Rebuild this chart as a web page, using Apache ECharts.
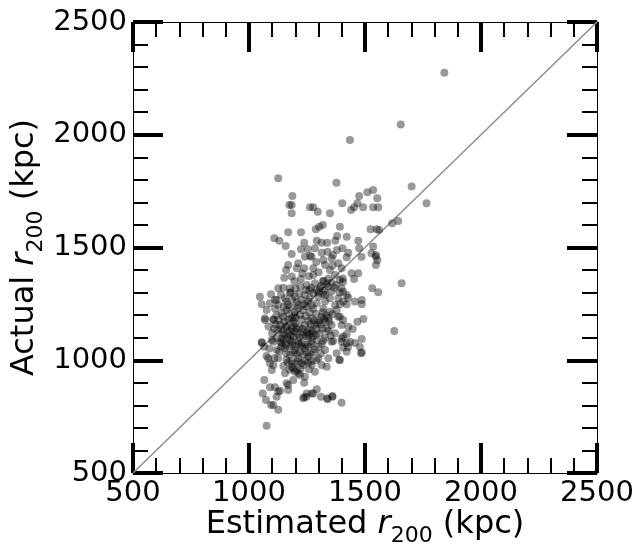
<!DOCTYPE html>
<html>
<head>
<meta charset="utf-8">
<script src="https://cdn.jsdelivr.net/npm/echarts@6/dist/echarts.min.js"></script>
<style>
  html, body { margin: 0; padding: 0; background: #fff; }
  #chart { width: 636px; height: 545px; }
</style>
</head>
<body>
<div id="chart"></div>
<script>
// axis range and tick labels (both axes share them)
const axisMin = 500
const axisMax = 2500
const majorStep = 500
const tickLabels = ['500', '1000', '1500', '2000', '2500']

// [estimated r200, actual r200] in kpc
const upperPoints = [
  [1126,1807],[1377,1787],[1187,1728],[1174,1689],[1184,1689],[1184,1652],[1263,1678],[1277,1678],
  [1296,1659],[1349,1652],[1402,1696],[1440,1666],[1453,1678],[1467,1696],[1475,1728],[1510,1745],
  [1535,1755],[1553,1718],[1492,1678],[1535,1678],[1557,1678],[1701,1770],[1765,1696],[1617,1607],
  [1643,1618],[1524,1581],[1550,1581],[1561,1578],[1288,1581],[1303,1592],[1318,1600],[1392,1592],
  [1169,1568],[1224,1568],[1109,1541],[1131,1530],[1158,1507],[1238,1521],[1292,1530],[1313,1521],
  [1337,1521],[1372,1530],[1380,1551],[1421,1548],[1471,1530],[1224,1492],[1253,1492],[1284,1497],
  [1313,1477],[1339,1481],[1403,1497],[1428,1477],[1475,1497],[1535,1504],[1528,1474],[1547,1467],
  [1485,1459],[1421,1457],[1184,1471],[1263,1462],[1362,1467],[1379,1489],
  [1435,1977],[1654,2046],[1842,2275]
]

const rightPoints = [
  [1547,1459],[1553,1444],[1547,1422],[1442,1386],[1471,1386],[1453,1360],[1404,1363],[1406,1348],
  [1658,1341],[1531,1319],[1557,1301],[1406,1304],[1421,1289],[1428,1277],[1457,1260],[1486,1267],
  [1486,1248],[1421,1248],[1392,1248],[1392,1193],[1406,1179],[1493,1183],[1467,1171],[1428,1149],
  [1447,1139],[1421,1115],[1406,1105],[1626,1130],[1486,1094],[1486,1034],[1400,1082],[1421,1075],
  [1483,1031],[1392,1001],[1399,812],[1435,1082],[1427,1059],[1457,1077],[1478,1059],[1421,1038]
]

const lowerPoints = [
  [1310,838],[1337,831],[1360,838],[1292,871],[1270,853],[1248,838],[1234,831],[1191,912],
  [1162,898],[1169,868],[1126,861],[1112,880],[1090,880],[1059,853],[1073,824],[1105,802],
  [1126,780],[1076,710],[1066,912],[1055,1078],[1065,1060],[1069,1179],[1105,1182],[1389,1001],
  [1076,1019],[1090,987],[1098,957],[1134,865],[1119,838],[1095,802],[1169,890],[1212,942],
  [1238,900],[1249,853],[1238,836],[1277,853],[1339,827],[1359,842],[1378,1031],[1406,1057]
]

const corePoints = [
  [1212,1430],[1241,1459],[1270,1459],[1320,1445],[1356,1452],[1385,1430],[1169,1422],
  [1206,1408],[1238,1408],[1277,1408],[1328,1422],[1349,1400],[1399,1408],
  [1152,1366],[1184,1371],[1224,1360],[1277,1378],[1342,1363],[1371,1378],[1392,1356],
  [1126,1319],[1148,1322],[1177,1319],[1249,1334],[1284,1341],[1306,1319],[1342,1326],[1368,1322],[1399,1319],
  [1047,1282],[1095,1293],[1119,1267],[1155,1275],[1198,1282],[1241,1289],[1277,1297],[1299,1282],[1320,1293],[1349,1275],[1385,1275],
  [1055,1248],[1090,1253],[1126,1245],[1169,1245],[1212,1245],[1256,1260],[1292,1253],[1328,1260],[1371,1245],[1406,1260],
  [1076,1223],[1112,1230],[1162,1223],[1198,1215],[1234,1223],[1277,1230],[1320,1230],[1349,1215],[1378,1223],
  [1069,1186],[1105,1179],[1148,1193],[1184,1186],[1220,1201],[1270,1186],[1313,1193],[1342,1186],[1385,1193],
  [1134,1156],[1162,1149],[1198,1164],[1241,1156],[1284,1156],[1328,1171],[1356,1156],[1399,1156],
  [1126,1134],[1169,1120],[1198,1127],[1234,1124],[1270,1130],[1306,1120],[1342,1130],[1371,1120],
  [1055,1080],[1098,1090],[1141,1097],[1177,1090],[1212,1085],[1256,1097],[1292,1090],[1328,1100],[1363,1085],[1399,1097],
  [1105,1082],[1141,1075],[1184,1082],[1227,1075],[1270,1082],[1313,1072],[1356,1082],
  [1119,1046],[1155,1053],[1198,1046],[1241,1053],[1284,1049],[1328,1046],
  [1083,1009],[1126,1009],[1162,1001],[1212,1009],[1256,1016],[1299,1009],[1342,1009],
  [1105,979],[1148,975],[1184,971],[1234,979],[1270,979],[1313,979],[1335,971],
  [1155,942],[1198,949],[1220,935],[1241,927],[1284,949]
]

const densePoints = [
  [1152,1112],[1166,1098],[1180,1110],[1193,1104],[1205,1118],[1219,1101],[1231,1112],[1246,1106],[1260,1115],[1274,1104],[1288,1112],
  [1158,1068],[1172,1062],[1186,1070],[1200,1063],[1214,1072],[1228,1060],[1242,1068],[1256,1062],[1270,1070],
  [1160,1030],[1176,1024],[1190,1035],[1205,1028],[1220,1038],[1234,1025],[1250,1033],[1264,1027],[1278,1036],
  [1168,990],[1182,997],[1196,986],[1210,994],[1226,988],[1240,998],[1255,990],[1268,996],
  [1175,958],[1190,965],[1206,956],[1222,962],[1258,960],
  [1292,1312],[1310,1330],[1324,1308],[1336,1338],[1356,1306],[1376,1334],[1390,1300],[1262,1310],[1318,1350],[1356,1345],
  [1290,1206],[1302,1176],[1318,1212],[1324,1184],[1334,1198],[1346,1172],[1360,1204],[1296,1166],
  [1112,1268],[1138,1290],[1176,1300],[1216,1296],[1228,1268],[1262,1276],[1140,1210],[1180,1236],[1210,1232],[1246,1240],
  [1262,1212],[1118,1200],[1152,1172],[1192,1172],[1226,1180],[1256,1174],[1140,1138],[1184,1142],[1216,1146],[1258,1138],
  [1290,1140],[1316,1140],
  [1196,1350],[1258,1372],[1300,1390],[1322,1352],[1230,1386],[1160,1400],[1290,1436],[1360,1420],
  [1084,1150],[1100,1120],[1120,1100],[1088,1052],[1130,1040],[1110,1010],[1140,1060],
  [1115,1160],[1128,1178],[1146,1120],[1160,1150],[1174,1130],[1190,1150],[1108,1140],[1135,1080],
  [1150,1090],[1170,1180],[1200,1190],[1206,1140],
  [1180,1300],[1200,1318],[1222,1328],[1246,1312],[1268,1322],[1300,1300],[1330,1290],[1160,1260],
  [1186,1270],[1206,1258],[1238,1250],[1270,1244],[1150,1236],[1172,1205],[1196,1200],[1244,1196],
  [1266,1160],[1280,1176],[1310,1158],[1336,1140],[1352,1110],[1320,1086],[1300,1060],[1310,1030],
  [1290,1000],[1276,1120],[1250,1124],[1230,1140]
]

// one-to-one reference line
const oneToOne = [[500, 500], [2500, 2500]]

const fontFamily = 'DejaVu Sans'
const labelSize = 29
const titleSize = 32

const nameStyle = {
  fontSize: titleSize,
  fontFamily: fontFamily,
  color: '#000',
  lineHeight: 44,
  rich: {
    i: { fontSize: titleSize, fontFamily: fontFamily, fontStyle: 'italic', color: '#000', lineHeight: 44 },
    s: { fontSize: 22, fontFamily: fontFamily, color: '#000', lineHeight: 22, verticalAlign: 'bottom' },
  },
}

const tickLabel = {
  show: true,
  fontSize: labelSize,
  fontFamily: fontFamily,
  color: '#000',
  margin: 6,
  showMinLabel: true,
  showMaxLabel: true,
  formatter: (v) => tickLabels[Math.round((v - axisMin) / majorStep)] || '',
}

const makeAxis = (position, extra) => Object.assign({
  type: 'value',
  position: position,
  min: axisMin,
  max: axisMax,
  interval: majorStep,
  axisLine: { show: true, onZero: false, lineStyle: { color: '#000', width: 1 } },
  axisTick: { show: true, inside: true, length: 30, lineStyle: { color: '#000', width: 4 } },
  minorTick: { show: true, splitNumber: 5, length: 15, lineStyle: { color: '#000', width: 2 } },
  splitLine: { show: false },
  axisLabel: { show: false },
}, extra)

const chart = echarts.init(document.getElementById('chart'))

chart.setOption({
  animation: false,
  grid: { left: 133, right: 39, top: 22, bottom: 72, outerBoundsMode: 'none', containLabel: false },
  xAxis: [
    makeAxis('bottom', {
      name: 'Estimated {i|r}{s|200} (kpc)',
      nameLocation: 'middle',
      nameGap: 30,
      nameMoveOverlap: false,
      nameTextStyle: nameStyle,
      axisLabel: tickLabel,
    }),
    makeAxis('top', {}),
  ],
  yAxis: [
    makeAxis('left', {
      name: 'Actual {i|r}{s|200} (kpc)',
      nameLocation: 'middle',
      nameGap: 86,
      nameMoveOverlap: false,
      nameTextStyle: nameStyle,
      axisLabel: tickLabel,
    }),
    makeAxis('right', {}),
  ],
  series: [
    {
      type: 'line',
      data: oneToOne,
      xAxisIndex: 0,
      yAxisIndex: 0,
      symbol: 'none',
      lineStyle: { color: '#8c8c8c', width: 1.5 },
      z: 1,
    },
    {
      type: 'scatter',
      data: [].concat(upperPoints, rightPoints, lowerPoints, corePoints, densePoints),
      xAxisIndex: 0,
      yAxisIndex: 0,
      symbolSize: 8,
      itemStyle: { color: 'rgba(0,0,0,0.5)' },
      z: 2,
    },
  ],
})
</script>
</body>
</html>
